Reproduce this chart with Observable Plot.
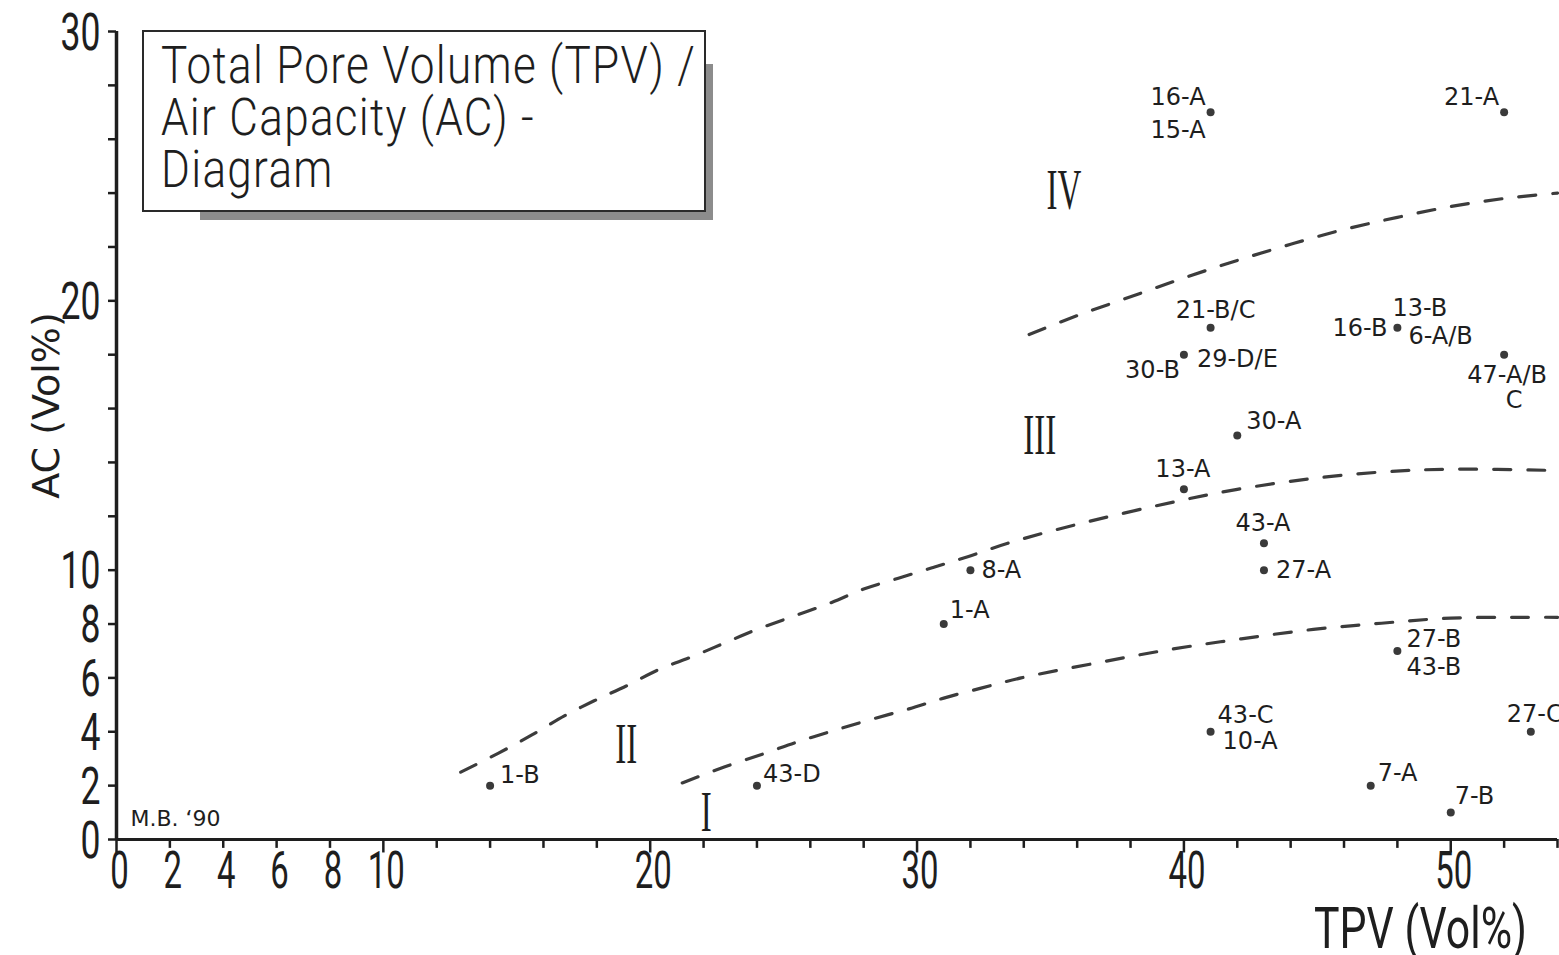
<!DOCTYPE html>
<html>
<head>
<meta charset="utf-8">
<script src="https://cdn.jsdelivr.net/npm/d3@7"></script>
<script src="https://cdn.jsdelivr.net/npm/@observablehq/plot@0.6"></script>
<style>
  html, body { margin: 0; padding: 0; background: #fff; }
  #wrap { position: relative; width: 1559px; height: 955px; overflow: hidden; background: #fff; }
  #chart svg { display: block; }
  .shadow-b { position: absolute; left: 200px; top: 210px; width: 513px; height: 10px; background: #8c8c8c; }
  .shadow-r { position: absolute; left: 703px; top: 64px; width: 10px; height: 156px; background: #8c8c8c; }
  #titlebox { position: absolute; left: 142px; top: 30px; width: 564px; height: 182px; box-sizing: border-box;
    border: 2.5px solid #2a2a2a; background: #fff; padding: 8px 0 0 17px;
    font-family: Roboto, "DejaVu Sans", sans-serif; font-weight: 300; font-size: 51px; line-height: 52px; color: #1e1e1e; }
  #titlebox .tl { white-space: nowrap; transform-origin: 0 50%; letter-spacing: 1.5px; height: 52px; }
  #titlebox .tl span { display: inline-block; line-height: 52px; }
</style>
</head>
<body>
<div id="wrap">
  <div id="chart"></div>
  <div class="shadow-b"></div>
  <div class="shadow-r"></div>
  <div id="titlebox">
    <div class="tl"><span>Total Pore Volume (TPV) /</span></div>
    <div class="tl"><span>Air Capacity (AC) -</span></div>
    <div class="tl"><span>Diagram</span></div>
  </div>
</div>
<script>
// ---------- DATA ----------
// x axis: Total Pore Volume (TPV, Vol%); y axis: Air Capacity (AC, Vol%)
const xTickValues = [0,2,4,6,8,10,12,14,16,18,20,22,24,26,28,30,32,34,36,38,40,42,44,46,48,50,52,54];
const xTickLabels = [0,2,4,6,8,10,20,30,40,50];
const yTickValues = [0,2,4,6,8,10,12,14,16,18,20,22,24,26,28,30];
const yTickLabels = [0,2,4,6,8,10,20,30];

// sample points
const sampleTPV = [14, 24, 31, 32, 40, 42, 43, 43, 41, 40, 48, 52, 41, 52, 48, 41, 53, 47, 50];
const sampleAC  = [ 2,  2,  8, 10, 13, 15, 11, 10, 19, 18, 19, 18, 27, 27,  7,  4,  4,  2,  1];

// sample labels and the point each one belongs to
const labelText  = ["1-B","43-D","1-A","8-A","13-A","30-A","43-A","27-A","21-B/C","30-B","29-D/E",
                    "16-B","13-B","6-A/B","47-A/B","C","16-A","15-A","21-A","27-B","43-B",
                    "43-C","10-A","27-C","7-A","7-B"];
const labelPoint = [0,1,2,3,4,5,6,7,8,9,9,10,10,10,11,11,12,12,13,14,14,15,15,16,17,18];

// dashed class boundaries
const boundaryI_II_tpv = [21.2, 22.8, 24.3, 25.6, 26.9, 28.25, 29.7, 31.0, 32.4, 33.9, 36.7, 39.45, 42.15, 44.85, 47.4, 50.0, 52.8, 54.0];
const boundaryI_II_ac  = [2.1, 2.7, 3.2, 3.65, 4.05, 4.45, 4.85, 5.25, 5.62, 6.0, 6.55, 7.05, 7.45, 7.8, 8.03, 8.22, 8.25, 8.25];
const boundaryII_III_tpv = [12.9, 14.3, 15.6, 16.8, 17.9, 19.1, 20.3, 21.6, 22.8, 24.0, 25.4, 26.8, 28.0, 29.3, 30.6, 31.9, 33.4, 36.0, 39.7, 42.0, 44.8, 47.5, 50.0, 54.0];
const boundaryII_III_ac  = [2.5, 3.2, 3.9, 4.6, 5.15, 5.7, 6.3, 6.8, 7.3, 7.8, 8.3, 8.8, 9.3, 9.7, 10.1, 10.5, 11.0, 11.7, 12.55, 13.0, 13.4, 13.65, 13.75, 13.7];
const boundaryIII_IV_tpv = [34.2, 36.0, 38.0, 40.0, 42.0, 44.0, 46.0, 48.0, 50.0, 52.0, 54.0];
const boundaryIII_IV_ac  = [18.75, 19.45, 20.15, 20.85, 21.5, 22.1, 22.65, 23.1, 23.5, 23.8, 24.0];

// class (region) names
const regionNames = ["I", "II", "III", "IV"];
const regionTPV   = [22.1, 19.1, 34.6, 35.5];
const regionAC    = [1.0, 3.5, 15.0, 24.1];

const xAxisTitle = "TPV (Vol%)";
const yAxisTitle = "AC (Vol%)";
const signature  = "M.B. \u201890";

// ---------- LAYOUT (pixel offsets of the labels: dx, dy, anchor) ----------
const labelLayout = [
  [10,-10,"start"],[6,-11,"start"],[6,-14,"start"],[11,0,"start"],[-1,-20,"middle"],
  [9,-14,"start"],[-1,-20,"middle"],[12,0,"start"],[5,-17,"middle"],[-4,16,"end"],
  [13,5,"start"],[-10,1,"end"],[-5,-19,"start"],[11,9,"start"],[3,21,"middle"],
  [10,46,"middle"],[-5,-15,"end"],[-5,18,"end"],[-5,-15,"end"],[9,-12,"start"],
  [9,16,"start"],[7,-16,"start"],[12,10,"start"],[-24,-17,"start"],[7,-12,"start"],
  [4,-16,"start"]
];

// ---------- BUILD ----------
const ink = "#1e1e1e";
const dinFont = "Roboto, DejaVu Sans, sans-serif";
const samples = sampleTPV.map((x, i) => ({x, y: sampleAC[i]}));
const curves = [
  ...boundaryI_II_tpv.map((x, i) => ({x, y: boundaryI_II_ac[i], c: "I/II"})),
  ...boundaryII_III_tpv.map((x, i) => ({x, y: boundaryII_III_ac[i], c: "II/III"})),
  ...boundaryIII_IV_tpv.map((x, i) => ({x, y: boundaryIII_IV_ac[i], c: "III/IV"}))
];
const regions = regionNames.map((n, i) => ({n, x: regionTPV[i], y: regionAC[i]}));

const labelMarks = labelText.map((t, i) => {
  const p = labelPoint[i];
  const [dx, dy, anchor] = labelLayout[i];
  return Plot.text([{t, x: sampleTPV[p], y: sampleAC[p]}], {
    x: "x", y: "y", text: "t", dx, dy, textAnchor: anchor,
    fontSize: 24, fill: ink, fontFamily: "DejaVu Sans, sans-serif", letterSpacing: 1.6
  });
});

const plot = Plot.plot({
  width: 1559,
  height: 955,
  marginLeft: 116,
  marginRight: 2,
  marginTop: 31,
  marginBottom: 116,
  x: {domain: [0, 54], axis: null},
  y: {domain: [0, 30], axis: null},
  style: {background: "#fff", color: ink, fontFamily: "DejaVu Sans, sans-serif", overflow: "visible"},
  marks: [
    // dashed boundaries
    Plot.line(curves, {x: "x", y: "y", z: "c", curve: "catmull-rom", stroke: "#3c3c3c",
      strokeWidth: 3.2, strokeDasharray: "17,17", strokeLinecap: "round"}),
    // axes
    Plot.ruleY([0], {x1: 0, x2: 54, stroke: ink, strokeWidth: 3}),
    Plot.ruleX([0], {y1: 0, y2: 30, stroke: ink, strokeWidth: 3.5}),
    Plot.ruleX(xTickValues, {x: d => d, y1: 0, y2: d => d % 10 === 0 ? -0.5 : -0.33, stroke: ink, strokeWidth: 2.5}),
    Plot.ruleY(yTickValues, {y: d => d, x1: 0, x2: -0.3, stroke: ink, strokeWidth: 2.5}),
    Plot.text(xTickLabels, {x: d => d, y: 0, text: d => String(d), dy: 32, dx: 3, fontSize: 52, fill: ink,
      fontFamily: dinFont, fontWeight: 400}),
    Plot.text(yTickLabels, {x: 0, y: d => d, text: d => String(d), dx: -16, dy: 2, textAnchor: "end", fontSize: 51,
      fill: ink, fontFamily: dinFont, fontWeight: 400}),
    Plot.text([xAxisTitle], {frameAnchor: "bottom-right", dx: -137, dy: 90, textAnchor: "middle", lineAnchor: "middle",
      text: d => d, fontSize: 57, fill: ink, fontFamily: dinFont, fontWeight: 400}),
    Plot.text([yAxisTitle], {frameAnchor: "left", dx: -70, dy: -30, rotate: -90, textAnchor: "middle", lineAnchor: "middle",
      text: d => d, fontSize: 38, fill: ink, fontFamily: "DejaVu Sans, sans-serif"}),
    Plot.text([signature], {frameAnchor: "bottom-left", dx: 14, dy: -21, textAnchor: "start", lineAnchor: "middle",
      text: d => d, fontSize: 22, fill: ink, fontFamily: "DejaVu Sans, sans-serif", letterSpacing: 2.2}),
    // regions
    Plot.text(regions, {x: "x", y: "y", text: "n", fontSize: 57, fill: ink,
      fontFamily: "Liberation Serif, DejaVu Serif, serif"}),
    // points
    Plot.dot(samples, {x: "x", y: "y", r: 4, fill: "#3a3a3a", stroke: "none"}),
    ...labelMarks
  ]
});

document.getElementById("chart").appendChild(plot);

// horizontally condense the large DIN-like texts (glyph compression, positions untouched)
const condensePerChar = {"52": 18.5, "51": 20};
const condenseFactor = {"57": 0.58};
plot.querySelectorAll("g[font-size]").forEach(g => {
  const fs = g.getAttribute("font-size");
  const isXTitle = g.textContent === xAxisTitle;
  g.querySelectorAll("text").forEach(t => {
    const len = t.getComputedTextLength();
    if (!(len > 0)) return;
    let target = null;
    if (isXTitle) target = 213;
    else if (condensePerChar[fs]) target = t.textContent.length * condensePerChar[fs];
    else if (condenseFactor[fs]) target = len * condenseFactor[fs];
    if (target) {
      t.setAttribute("textLength", target.toFixed(1));
      t.setAttribute("lengthAdjust", "spacingAndGlyphs");
    }
  });
});

// fit the title lines to the width of the boxed title
const spans = [...document.querySelectorAll("#titlebox .tl span")];
const w0 = spans[0].getBoundingClientRect().width;
const k = 535 / w0;
document.querySelectorAll("#titlebox .tl").forEach(el => { el.style.transform = `scaleX(${k})`; });
</script>
</body>
</html>
